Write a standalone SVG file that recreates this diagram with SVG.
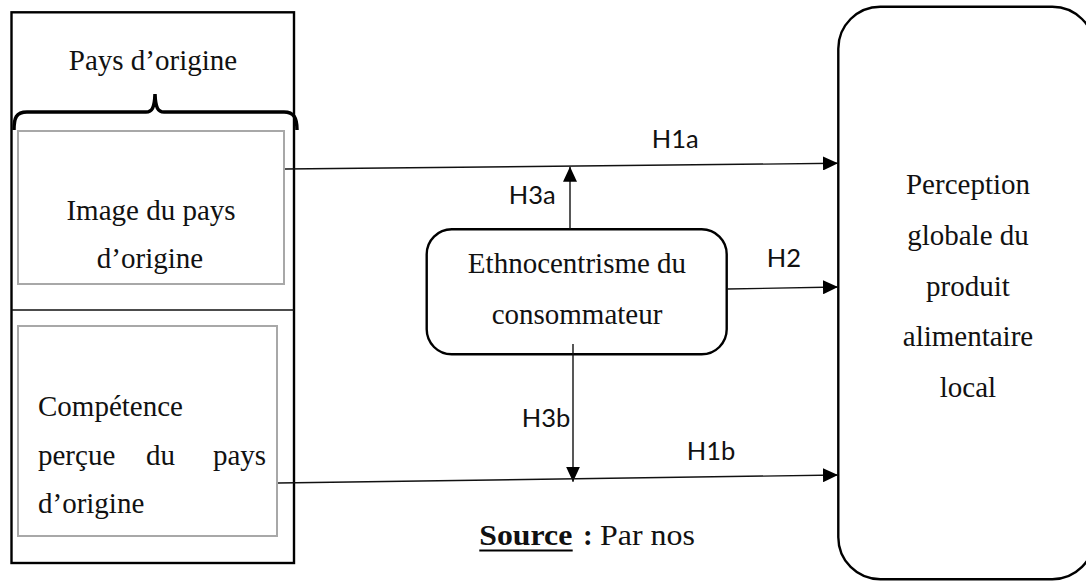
<svg xmlns="http://www.w3.org/2000/svg" width="1086" height="581" viewBox="0 0 1086 581">
<style>
.serif{font-family:"Liberation Serif","Times New Roman",serif;font-size:29px;fill:#111}
.lbl{font-family:Lato,"Open Sans",sans-serif;font-size:25.5px;fill:#111}
.box{fill:none;stroke:#000;stroke-width:2.4}
.gray{fill:none;stroke:#a8a8a8;stroke-width:2}
.con{fill:none;stroke:#111;stroke-width:1.4}
</style>
<defs>
<marker id="arr" viewBox="0 0 15 14" refX="15" refY="7" markerWidth="15" markerHeight="14" orient="auto" markerUnits="userSpaceOnUse">
<path d="M0,0 L15,7 L0,14 z" fill="#000"/>
</marker>
</defs>
<rect width="1086" height="581" fill="#fff"/>

<g id="pays-origine">
<rect class="box" x="11.5" y="12.3" width="282.5" height="550.7"/>
<line x1="11.5" y1="310" x2="294" y2="310" stroke="#111" stroke-width="1.5"/>
<text class="serif" x="153" y="70" text-anchor="middle">Pays d’origine</text>
<path d="M14,130 C14,118 16,112 27,112 L146,112 C152,112 154.5,108 155,94 C155.5,108 158,112 164,112 L284,112 C294,112 297,118 297,130" fill="none" stroke="#000" stroke-width="3.5"/>
</g>

<g id="image-pays">
<rect class="gray" x="18" y="131" width="266" height="153"/>
<text class="serif" x="151" y="220" text-anchor="middle">Image du pays</text>
<text class="serif" x="150" y="268" text-anchor="middle">d’origine</text>
</g>

<g id="competence">
<rect class="gray" x="18" y="326" width="259" height="210"/>
<text class="serif" x="38" y="416">Compétence</text>
<text class="serif" y="465"><tspan x="38">perçue</tspan><tspan x="146">du</tspan><tspan x="213">pays</tspan></text>
<text class="serif" x="38" y="513">d’origine</text>
</g>

<g id="ethnocentrisme">
<rect class="box" x="426.7" y="229.3" width="300" height="125" rx="25" ry="25" stroke-width="2.6"/>
<text class="serif" x="577" y="273" text-anchor="middle">Ethnocentrisme du</text>
<text class="serif" x="577" y="323.5" text-anchor="middle">consommateur</text>
</g>

<g id="perception">
<rect class="box" x="838.3" y="6.7" width="256" height="572.5" rx="42" ry="42" stroke-width="2.6"/>
<text class="serif" x="968" y="193.5" text-anchor="middle">Perception</text>
<text class="serif" x="968" y="245" text-anchor="middle">globale du</text>
<text class="serif" x="968" y="296" text-anchor="middle">produit</text>
<text class="serif" x="968" y="346" text-anchor="middle">alimentaire</text>
<text class="serif" x="968" y="397" text-anchor="middle">local</text>
</g>

<g id="connectors">
<line class="con" x1="285" y1="169" x2="838" y2="163.3" marker-end="url(#arr)"/>
<line class="con" x1="570" y1="229" x2="570" y2="166.7" marker-end="url(#arr)"/>
<line class="con" x1="727" y1="289" x2="838" y2="287" marker-end="url(#arr)"/>
<line class="con" x1="573" y1="344" x2="573" y2="481.7" marker-end="url(#arr)"/>
<line class="con" x1="278" y1="483" x2="838" y2="475" marker-end="url(#arr)"/>
<text class="lbl" x="651.7" y="148.3">H1a</text>
<text class="lbl" x="508.7" y="204">H3a</text>
<text class="lbl" x="766.7" y="266.7">H2</text>
<text class="lbl" x="521.7" y="426.7">H3b</text>
<text class="lbl" x="686.7" y="460">H1b</text>
</g>

<g id="source">
<text class="serif" y="545"><tspan x="479.3" font-weight="bold" textLength="93" lengthAdjust="spacingAndGlyphs">Source</tspan><tspan x="583" font-weight="bold">:</tspan><tspan x="600" textLength="95" lengthAdjust="spacingAndGlyphs">Par nos</tspan></text>
<line x1="479.3" y1="550.5" x2="572.7" y2="550.5" stroke="#000" stroke-width="2"/>
</g>
</svg>
